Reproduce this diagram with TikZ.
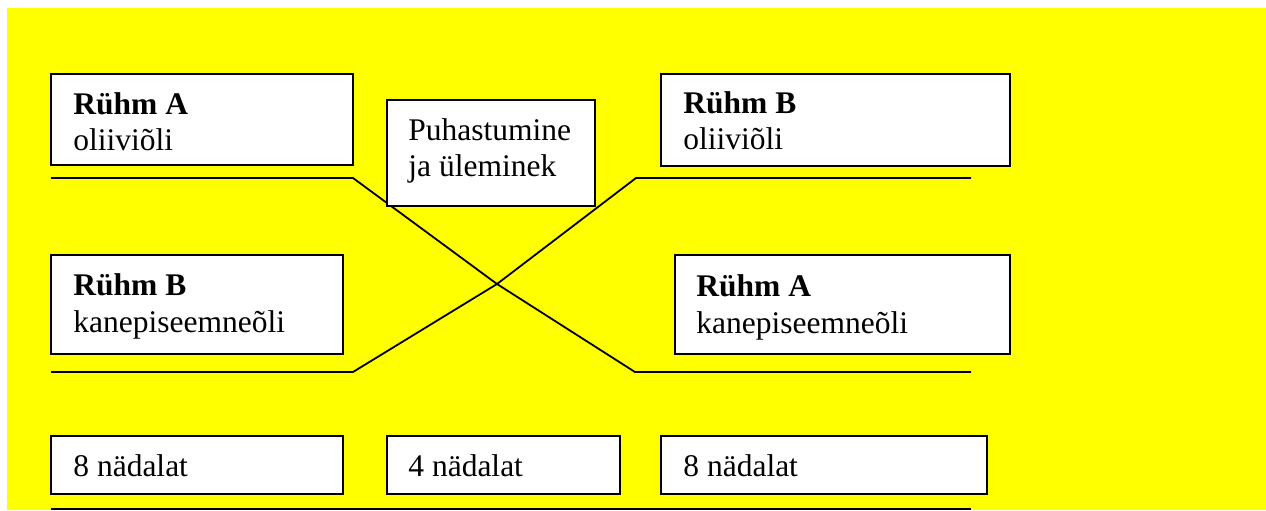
\documentclass[tikz,border=0pt]{standalone}
\usepackage{fontspec}
\setmainfont{Liberation Serif}
\usetikzlibrary{fit,calc}
\definecolor{bgyellow}{RGB}{255,255,0}
\begin{document}
\begin{tikzpicture}[x=0.5pt,y=-0.5pt,
  box/.style={draw=black,line width=0.9pt,fill=white,inner sep=0pt},
  txt/.style={inner sep=0pt,anchor=base west,font=\fontsize{15.75}{18}\selectfont},
  conn/.style={draw=black,line width=0.9pt,line join=miter}]
\useasboundingbox (0,0) rectangle (1266,510);
\fill[white] (0,0) rectangle (1266,510);
\fill[bgyellow] (7,8) rectangle (1266,510);
% lines
\coordinate (a0) at (51,178);
\coordinate (a1) at (353,178);
\coordinate (x) at (497,284);
\coordinate (a2) at (635,372);
\coordinate (a3) at (971,372);
\coordinate (b0) at (51,372);
\coordinate (b1) at (353,372);
\coordinate (b2) at (636,178);
\coordinate (b3) at (971,178);
\coordinate (c0) at (51,509);
\coordinate (c1) at (971,509);
\draw[conn] (a0) -- (a1) -- (x) -- (a2) -- (a3);
\draw[conn] (b0) -- (b1) -- (x) -- (b2) -- (b3);
\draw[conn] (c0) -- (c1);
% boxes
\node[box,fit={(51,74) (353,165)}] (ra1) {};
\node[box,fit={(387,100) (595,206)}] (puh) {};
\node[box,fit={(661,74) (1010,166)}] (rb1) {};
\node[box,fit={(51,255) (343,354)}] (rb2) {};
\node[box,fit={(675,255) (1010,354)}] (ra2) {};
\node[box,fit={(51,436) (343,494)}] (w1) {};
\node[box,fit={(387,436) (620,494)}] (w2) {};
\node[box,fit={(661,436) (987,494)}] (w3) {};
% texts
\node[txt] (ra1a) at (73,114) {\textbf{Rühm A}};
\node[txt] (ra1b) at (73,150) {oliiviõli};
\node[txt] (puha) at (408,140) {Puhastumine};
\node[txt] (puhb) at (408,176) {ja üleminek};
\node[txt] (rb1a) at (683,113) {\textbf{Rühm B}};
\node[txt] (rb1b) at (683,149) {oliiviõli};
\node[txt] (rb2a) at (73,295) {\textbf{Rühm B}};
\node[txt] (rb2b) at (73,332) {kanepiseemneõli};
\node[txt] (ra2a) at (696,296) {\textbf{Rühm A}};
\node[txt] (ra2b) at (696,333) {kanepiseemneõli};
\node[txt] (w1t) at (73,476) {8 nädalat};
\node[txt] (w2t) at (408,476) {4 nädalat};
\node[txt] (w3t) at (683,476) {8 nädalat};
\end{tikzpicture}
\end{document}
